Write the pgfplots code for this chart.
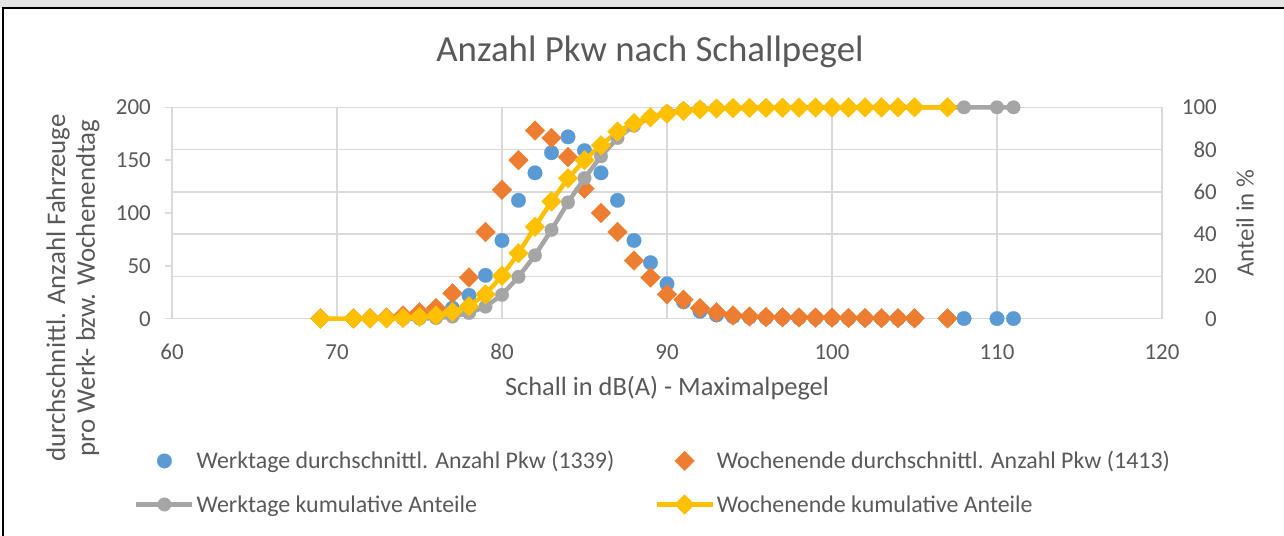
\documentclass[border=0pt]{standalone}
\usepackage{fontspec}
\setmainfont{Carlito}
\usepackage{pgfplots}
\pgfplotsset{compat=1.18}
\definecolor{cblue}{HTML}{5B9BD5}
\definecolor{corange}{HTML}{ED7D31}
\definecolor{cgrey}{HTML}{A5A5A5}
\definecolor{cyellow}{HTML}{FFC000}
\definecolor{ctext}{HTML}{595959}
\definecolor{cgrid}{HTML}{D9D9D9}
\begin{document}
\begin{tikzpicture}
\useasboundingbox (0,0) rectangle (1284bp,536bp);
\fill[gray!20] (0,528bp) rectangle (1284bp,536bp);
\draw[black, line width=2bp] (3bp,-5bp) -- (3bp,528bp) -- (1290bp,528bp);
\node[font=\fontsize{37}{40}\selectfont, text=ctext] at (650bp,484bp) {Anzahl Pkw nach Schallpegel};
\node[rotate=90, align=center, font=\fontsize{27}{30}\selectfont, text=ctext] at (73bp,248bp) {durchschnittl. Anzahl Fahrzeuge\\pro Werk- bzw. Wochenendtag};
\node[rotate=90, font=\fontsize{25}{28}\selectfont, text=ctext] at (1245bp,313bp) {Anteil in \%};
\node[font=\fontsize{26.5}{28}\selectfont, text=ctext] at (667bp,148bp) {Schall in dB(A) - Maximalpegel};
\begin{axis}[
 scale only axis, width=990bp, height=211.4bp,
 at={(172bp,217.3bp)}, anchor=south west,
 xmin=60, xmax=120, ymin=0, ymax=200,
 xtick={60,70,...,120}, ytick={0,50,...,200},
 axis x line*=bottom, axis y line*=left,
 x axis line style={draw=none},
 y axis line style={cgrid, line width=1.5bp},
 xmajorgrids, grid style={cgrid, line width=1.5bp},
 extra y ticks={0,40,80,120,160,200}, extra y tick labels={},
 extra y tick style={ymajorgrids=true, tick style={draw=none}},
 tick align=outside, major tick length=7bp,
 xtick style={draw=none}, ytick style={cgrid, line width=1.5bp},
 tick label style={font=\fontsize{23}{26}\selectfont, text=ctext, inner sep=0pt},
 /pgf/number format/assume math mode=true,
 xticklabel style={anchor=center, yshift=-26bp},
 yticklabel style={anchor=east, xshift=-14bp},
 clip=false,
]
\addplot[cblue, only marks, mark=*, mark size=7.3bp, mark options={draw=cblue, fill=cblue, line width=0.2bp}] coordinates {
(74,0.5)(75,1)(76,3)(77,10)(78,22)(79,41)(80,74)(81,112)(82,138)(83,157)(84,172)(85,159)(86,138)(87,112)(88,74)(89,53)(90,33)(91,16)(92,7)(93,3.5)(94,2)(95,1.5)(96,1)(97,1)(98,0.8)(99,0.6)(100,0.5)(101,0.4)(102,0.3)(103,0.3)(104,0.2)(105,0.2)(107,0.2)(108,0.2)(110,0.1)(111,0.1)};
\addplot[corange, only marks, mark=square*, mark size=7bp, mark options={rotate=45, draw=corange, fill=corange, line width=0.2bp}] coordinates {
(69,0.3)(71,0.3)(72,0.5)(73,1)(74,3)(75,6)(76,10)(77,24)(78,39)(79,82)(80,122)(81,150)(82,178)(83,171)(84,153)(85,123)(86,100)(87,82)(88,55)(89,39)(90,23)(91,18)(92,10)(93,6)(94,3)(95,2)(96,1.5)(97,1.3)(98,1.2)(99,1)(100,1)(101,0.7)(102,0.6)(103,0.5)(104,0.5)(105,0.4)(107,0.3)};
\end{axis}
\begin{axis}[
 scale only axis, width=990bp, height=211.4bp,
 at={(172bp,217.3bp)}, anchor=south west,
 xmin=60, xmax=120, ymin=0, ymax=100,
 ytick={0,20,...,100},
 axis x line=none, axis y line*=right,
 y axis line style={draw=none}, ytick style={draw=none},
 tick label style={font=\fontsize{23}{26}\selectfont, text=ctext, inner sep=0pt},
 /pgf/number format/assume math mode=true,
 yticklabel style={anchor=east, xshift=55bp},
 clip=false,
 legend columns=2,
 legend image code/.code={\draw[mark repeat=2,mark phase=2,#1] plot coordinates {(0bp,0bp) (28bp,0bp) (56bp,0bp)};},
 legend style={at={(-0.0384,-0.7748)}, anchor=west, draw=none, fill=none, inner sep=0pt,
   font=\fontsize{24}{26}\selectfont, text=ctext, row sep=21bp,
   cells={anchor=west},
   /tikz/every even column/.append style={column sep=38bp}},
]
\addlegendimage{cblue, only marks, mark=*, mark size=7.3bp, mark options={draw=cblue, fill=cblue, line width=0.2bp}}
\addlegendimage{corange, only marks, mark=square*, mark size=7bp, mark options={rotate=45, draw=corange, fill=corange, line width=0.2bp}}
\addplot[draw=cgrey, line width=4.5bp, mark=*, mark size=6.8bp, mark options={draw=none, fill=cgrey, line width=0.2bp}] coordinates {
(74,0.05)(75,0.1)(76,0.3)(77,1.0)(78,2.7)(79,5.7)(80,11.3)(81,19.8)(82,30)(83,42)(84,55)(85,66.5)(86,76.8)(87,85.5)(88,91.3)(89,95.2)(90,97.6)(91,98.8)(92,99.3)(93,99.6)(94,99.7)(95,99.8)(96,99.85)(97,99.88)(98,99.9)(99,99.92)(100,99.93)(101,99.94)(102,99.95)(103,99.96)(104,99.97)(105,99.97)(107,99.98)(108,99.99)(110,99.99)(111,100)};
\addplot[draw=cyellow, line width=4.5bp, mark=square*, mark size=7bp, mark options={rotate=45, draw=cyellow, fill=cyellow, line width=0.2bp}] coordinates {
(69,0.02)(71,0.05)(72,0.1)(73,0.15)(74,0.4)(75,0.8)(76,1.5)(77,3.2)(78,5.9)(79,11.5)(80,20.3)(81,31)(82,43.5)(83,55.5)(84,66.4)(85,75)(86,82)(87,88.5)(88,92.5)(89,95.3)(90,97)(91,98.3)(92,99)(93,99.4)(94,99.6)(95,99.7)(96,99.75)(97,99.8)(98,99.85)(99,99.88)(100,99.9)(101,99.92)(102,99.94)(103,99.96)(104,99.97)(105,99.98)(107,100)};
\legend{Werktage durchschnittl. Anzahl Pkw (1339), Wochenende durchschnittl. Anzahl Pkw (1413), Werktage kumulative Anteile, Wochenende kumulative Anteile}
\end{axis}
\end{tikzpicture}
\end{document}
